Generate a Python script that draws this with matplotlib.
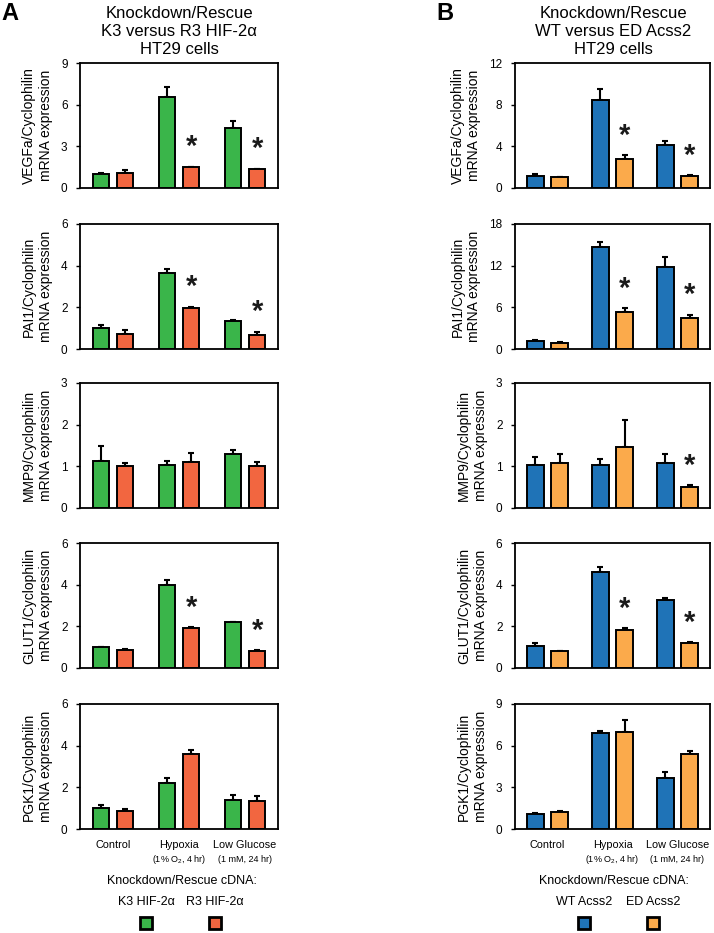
import matplotlib
matplotlib.use("Agg")
import matplotlib.pyplot as plt
from matplotlib.patches import Rectangle
import numpy as np

plt.rcParams['font.family'] = ['Liberation Sans', 'DejaVu Sans']
plt.rcParams['mathtext.fontset'] = 'custom'
plt.rcParams['mathtext.rm'] = 'Liberation Sans'

# ---------------- data ----------------
genes = ['VEGFa', 'PAI1', 'MMP9', 'GLUT1', 'PGK1']
conditions = ['Control', 'Hypoxia', 'Low Glucose']
condition_notes = ['', r'(1% O$_{\rm 2}$, 4 hr)', '(1 mM, 24 hr)']

a_ymax = [9, 6, 3, 6, 6]
b_ymax = [12, 18, 3, 6, 9]

a_k3 = [[1.0, 6.55, 4.35], [1.03, 3.67, 1.35], [1.13, 1.04, 1.29], [1.0, 3.98, 2.2], [1.02, 2.2, 1.38]]
a_k3_err = [[0.1, 0.75, 0.5], [0.1, 0.15, 0.03], [0.35, 0.08, 0.1], [0.02, 0.25, 0.03], [0.15, 0.27, 0.25]]
a_r3 = [[1.1, 1.48, 1.34], [0.71, 1.97, 0.67], [1.0, 1.1, 1.0], [0.88, 1.9, 0.82], [0.87, 3.61, 1.34]]
a_r3_err = [[0.2, 0.05, 0.05], [0.2, 0.05, 0.15], [0.08, 0.23, 0.1], [0.05, 0.05, 0.03], [0.07, 0.2, 0.26]]
a_r3_sig = [[0, 1, 1], [0, 1, 1], [0, 0, 0], [0, 1, 1], [0, 0, 0]]

b_wt = [[1.12, 8.49, 4.15], [1.15, 14.7, 11.76], [1.04, 1.04, 1.07], [1.07, 4.6, 3.28], [1.06, 6.9, 3.66]]
b_wt_err = [[0.2, 1.0, 0.4], [0.1, 0.75, 1.5], [0.19, 0.14, 0.22], [0.13, 0.25, 0.08], [0.12, 0.17, 0.46]]
b_ed = [[1.05, 2.74, 1.18], [0.86, 5.38, 4.51], [1.09, 1.47, 0.5], [0.8, 1.81, 1.2], [1.26, 6.97, 5.4]]
b_ed_err = [[0.05, 0.4, 0.05], [0.1, 0.5, 0.4], [0.2, 0.65, 0.05], [0.03, 0.1, 0.03], [0.05, 0.87, 0.24]]
b_ed_sig = [[0, 1, 1], [0, 1, 1], [0, 0, 1], [0, 1, 1], [0, 0, 0]]

a_labels = ['K3 HIF-2\u03b1', 'R3 HIF-2\u03b1']
b_labels = ['WT Acss2', 'ED Acss2']
a_colors = ['#3ab54a', '#f26640']
b_colors = ['#1f73b7', '#fbaa4b']

# ---------------- layout ----------------
W, H = 714, 933
fig = plt.figure(figsize=(W / 100, H / 100), dpi=100)

row_tops = [63, 224, 383, 543, 704]
ax_h = 125
col_left = [80, 515]
col_w = [198, 195]


def fx(px):
    return px / W


def fy(py):
    return 1 - py / H


def draw_panel(ax, m1, e1, m2, e2, sig, ymax, colors, gene, bottom):
    x = np.arange(3) + 0.5
    off = 0.185
    bw = 0.25
    ax.bar(x - off, m1, bw, color=colors[0], edgecolor='black', linewidth=1.4, zorder=2)
    ax.bar(x + off, m2, bw, color=colors[1], edgecolor='black', linewidth=1.4, zorder=2)
    ax.errorbar(x - off, m1, yerr=[np.zeros(3), e1], fmt='none', ecolor='black',
                elinewidth=1.5, capsize=2, capthick=1.5, zorder=1)
    ax.errorbar(x + off, m2, yerr=[np.zeros(3), e2], fmt='none', ecolor='black',
                elinewidth=1.5, capsize=2, capthick=1.5, zorder=1)
    for i in range(3):
        if sig[i]:
            ax.annotate('*', xy=(x[i] + off, m2[i] + e2[i]), xytext=(0, 4),
                        textcoords='offset points', ha='center', va='bottom',
                        fontsize=21, fontweight='bold', color='#1a1a1a')
    ax.set_xlim(0, 3)
    ax.set_ylim(0, ymax)
    ax.set_yticks(np.linspace(0, ymax, 4))
    ax.set_yticklabels([f'{int(v)}' for v in np.linspace(0, ymax, 4)], fontsize=8.5)
    ax.tick_params(axis='y', direction='out', length=3, width=1, pad=6)
    for s in ax.spines.values():
        s.set_linewidth(1.3)
    ax.set_ylabel(f'{gene}/Cyclophilin\nmRNA expression', fontsize=10, labelpad=6)
    if bottom:
        ax.set_xticks(x)
        ax.set_xticklabels(conditions, fontsize=7.8)
        ax.tick_params(axis='x', length=0, pad=8)
        for i in range(3):
            if condition_notes[i]:
                ax.annotate(condition_notes[i], xy=(x[i], 0), xytext=(0, -22),
                            textcoords='offset points', ha='center', va='center',
                            fontsize=6.5, xycoords=('data', 'axes fraction'))
    else:
        ax.set_xticks([])


for r in range(5):
    axA = fig.add_axes([fx(col_left[0]), fy(row_tops[r] + ax_h), fx(col_w[0]), ax_h / H])
    draw_panel(axA, a_k3[r], a_k3_err[r], a_r3[r], a_r3_err[r], a_r3_sig[r],
               a_ymax[r], a_colors, genes[r], r == 4)
    axB = fig.add_axes([fx(col_left[1]), fy(row_tops[r] + ax_h), fx(col_w[1]), ax_h / H])
    draw_panel(axB, b_wt[r], b_wt_err[r], b_ed[r], b_ed_err[r], b_ed_sig[r],
               b_ymax[r], b_colors, genes[r], r == 4)

# titles
fig.text(fx(179), fy(32), 'Knockdown/Rescue\nK3 versus R3 HIF-2\u03b1\nHT29 cells',
         ha='center', va='center', fontsize=12, linespacing=1.25)
fig.text(fx(613), fy(32), 'Knockdown/Rescue\nWT versus ED Acss2\nHT29 cells',
         ha='center', va='center', fontsize=12, linespacing=1.25)
fig.text(fx(1), fy(13), 'A', ha='left', va='center', fontsize=17, fontweight='bold')
fig.text(fx(436), fy(14), 'B', ha='left', va='center', fontsize=17, fontweight='bold')

# legends
def legend(cx_title, cx_items, labels, colors):
    fig.text(fx(cx_title), fy(881), 'Knockdown/Rescue cDNA:', ha='center', va='center', fontsize=9)
    for cx, lab, col in zip(cx_items, labels, colors):
        fig.text(fx(cx), fy(902), lab, ha='center', va='center', fontsize=9)
        sq = 12
        fig.add_artist(Rectangle((fx(cx - sq / 2), fy(923 + sq / 2)), fx(sq), sq / H,
                                 facecolor=col, edgecolor='black', linewidth=2,
                                 transform=fig.transFigure))


legend(182, [146, 215], a_labels, a_colors)
legend(614, [584, 653], b_labels, b_colors)

fig.savefig('out.png', dpi=100)
